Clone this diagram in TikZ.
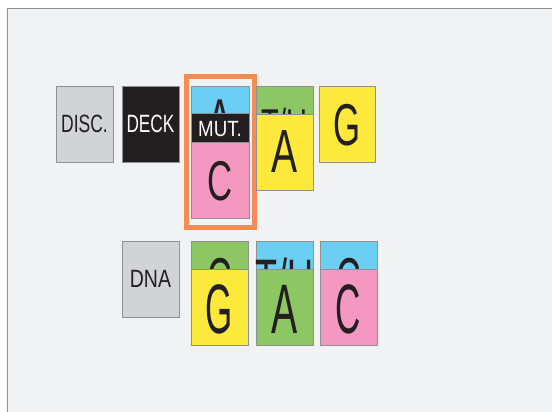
\documentclass[tikz,border=0pt]{standalone}
\usepackage{fontspec}
\setmainfont{Liberation Sans}
\definecolor{cyanC}{HTML}{6BCFF4}
\definecolor{pinkC}{HTML}{F498C2}
\definecolor{yellowC}{HTML}{FCE93C}
\definecolor{greenC}{HTML}{8CC764}
\definecolor{grayC}{HTML}{D1D3D4}
\definecolor{blackC}{HTML}{231F20}
\definecolor{orangeC}{HTML}{F58C54}
\definecolor{panelC}{HTML}{F1F2F4}
\definecolor{edgeC}{HTML}{8E9093}
\newcommand\lbl[3]{\scalebox{#1}[1]{\fontsize{#2}{#2}\selectfont #3}}
\tikzset{
  card/.style={draw=edgeC, line width=0.7pt, inner sep=0pt, anchor=north west, minimum width=57pt, minimum height=76pt},
  txt/.style={inner sep=0pt, anchor=base, text=blackC},
}
\begin{document}
\begin{tikzpicture}[x=1pt,y=-1pt]
\useasboundingbox (0,0) rectangle (552,412);
\fill[white] (0,0) rectangle (552,412);
\fill[panelC] (7,9) rectangle (553,413);
\draw[edgeC, line width=1pt] (7,413) -- (7,9) -- (553,9);

% top row
\node[card, fill=grayC] (disc) at (56,86) {};
\node[txt] (disct) at (84.5,132) {\lbl{0.70}{25}{DISC.}};
\node[card, fill=blackC] (deck) at (122,86) {};
\node[txt, text=white] (deckt) at (150.5,132) {\lbl{0.69}{25}{DECK}};

% mutation card
\node[card, fill=cyanC, minimum width=58pt] (mutA) at (191,86) {};
\node[txt] (mutAt) at (220,140) {\lbl{0.64}{59}{A}};
\node[card, fill=pinkC, minimum width=58pt, minimum height=105pt] (mutC) at (191,113) {};
\node[card, fill=blackC, minimum width=58pt, minimum height=29pt] (mutband) at (191,113) {};
\node[txt, text=white] (mutt) at (220,136) {\lbl{0.85}{22}{MUT.}};
\node[txt] (mutCt) at (220,200) {\lbl{0.62}{56}{C}};
\draw[orangeC, line width=5pt] (186.5,76.5) rectangle (254.5,227.5);
\node[inner sep=0pt, minimum width=73pt, minimum height=156pt, anchor=north west] (mutbox) at (184,74) {};

\node[card, fill=greenC] (tu1) at (256,86) {};
\node[txt] (tu1t) at (284.5,141) {\lbl{0.63}{46}{T/U}};
\node[card, fill=yellowC] (a1) at (256,114) {};
\node[txt] (a1t) at (284.5,172) {\lbl{0.64}{61}{A}};
\node[card, fill=yellowC, minimum width=56pt] (g1) at (319,86) {};
\node[txt] (g1t) at (347,145) {\lbl{0.59}{59}{G}};

% bottom row
\node[card, fill=grayC] (dna) at (122,241) {};
\node[txt] (dnat) at (150.5,287) {\lbl{0.78}{25}{DNA}};

\node[card, fill=greenC] (c2) at (191,241) {};
\node[txt] (c2t) at (219.5,301) {\lbl{0.55}{62}{C}};
\node[card, fill=cyanC] (tu2) at (256,241) {};
\node[txt] (tu2t) at (284.5,301) {\lbl{0.6}{60}{T/U}};
\node[card, fill=cyanC] (c3) at (320,241) {};
\node[txt] (c3t) at (348.5,301) {\lbl{0.55}{62}{C}};

\node[card, fill=yellowC] (g2) at (191,269) {};
\node[txt] (g2t) at (219.5,333) {\lbl{0.50}{70}{G}};
\node[card, fill=greenC] (a2) at (256,269) {};
\node[txt] (a2t) at (284.5,333) {\lbl{0.56}{70}{A}};
\node[card, fill=pinkC] (c4) at (320,269) {};
\node[txt] (c4t) at (348.5,333) {\lbl{0.50}{70}{C}};
\end{tikzpicture}
\end{document}
